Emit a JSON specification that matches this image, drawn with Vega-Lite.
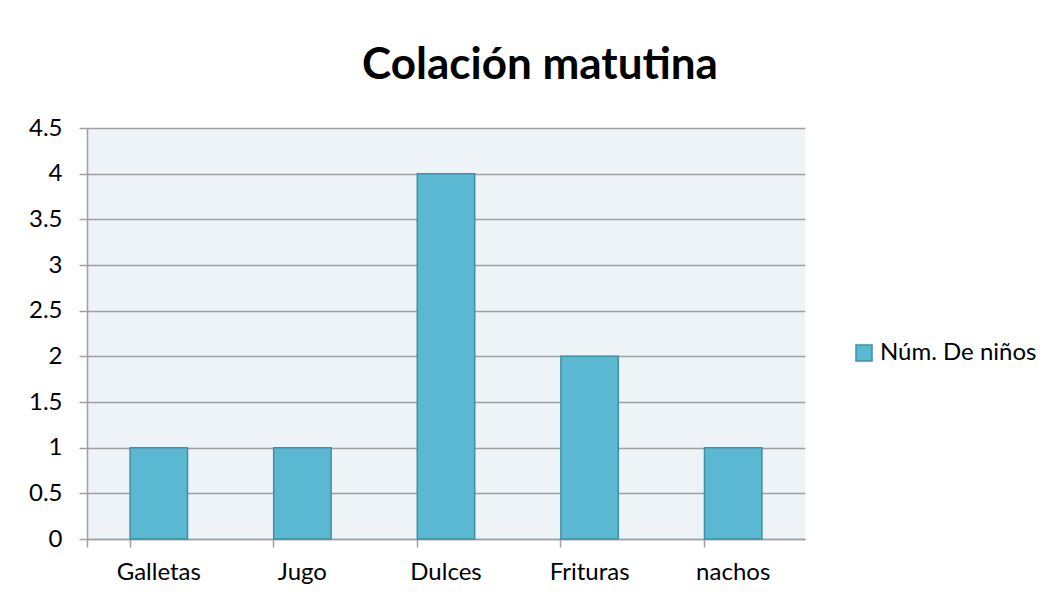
{
  "$schema": "https://vega.github.io/schema/vega-lite/v6.json",
  "width": 718,
  "height": 411,
  "autosize": {"type": "none"},
  "padding": {"left": 87, "top": 128, "right": 258, "bottom": 62},
  "background": "white",
  "title": {
    "text": "Colación matutina",
    "font": "Lato",
    "fontSize": 44,
    "fontWeight": "bold",
    "color": "#000000",
    "anchor": "middle",
    "dx": 94,
    "offset": 28
  },
  "data": {
    "values": [
      {"categoria": "Galletas", "ninos": 1},
      {"categoria": "Jugo", "ninos": 1},
      {"categoria": "Dulces", "ninos": 4},
      {"categoria": "Frituras", "ninos": 2},
      {"categoria": "nachos", "ninos": 1}
    ]
  },
  "mark": {"type": "bar", "stroke": "#3E90A6", "strokeWidth": 1.5},
  "encoding": {
    "x": {
      "field": "categoria",
      "type": "nominal",
      "sort": null,
      "title": null,
      "scale": {"paddingInner": 0.6, "paddingOuter": 0.3},
      "axis": {
        "labelAngle": 0,
        "labelFont": "Lato",
        "labelFontSize": 24,
        "labelColor": "#000000",
        "labelPadding": 13,
        "bandPosition": 0,
        "tickExtra": true,
        "tickSize": 8,
        "tickColor": "#A0A0A0",
        "tickWidth": 1.5,
        "domainColor": "#A0A0A0",
        "domainWidth": 1.5
      }
    },
    "y": {
      "field": "ninos",
      "type": "quantitative",
      "title": null,
      "scale": {"domain": [0, 4.5], "nice": false},
      "axis": {
        "values": [0, 0.5, 1, 1.5, 2, 2.5, 3, 3.5, 4, 4.5],
        "format": "~g",
        "labelFont": "Lato",
        "labelFontSize": 24,
        "labelColor": "#000000",
        "labelPadding": 17,
        "tickSize": 8,
        "tickColor": "#A0A0A0",
        "tickWidth": 1.5,
        "domainColor": "#A0A0A0",
        "domainWidth": 1.5,
        "grid": true,
        "gridColor": "#A0A0A0",
        "gridWidth": 1.5
      }
    },
    "color": {
      "datum": "Núm. De niños",
      "scale": {"range": ["#5BB8D2"]},
      "legend": {
        "title": null,
        "orient": "none",
        "legendX": 765,
        "legendY": 213,
        "symbolType": "square",
        "symbolSize": 256,
        "symbolStrokeColor": "#3E90A6",
        "symbolStrokeWidth": 1.5,
        "labelFont": "Lato",
        "labelFontSize": 24,
        "labelColor": "#000000",
        "labelOffset": 4
      }
    }
  },
  "config": {
    "view": {"fill": "#EEF3F8", "stroke": null}
  }
}
